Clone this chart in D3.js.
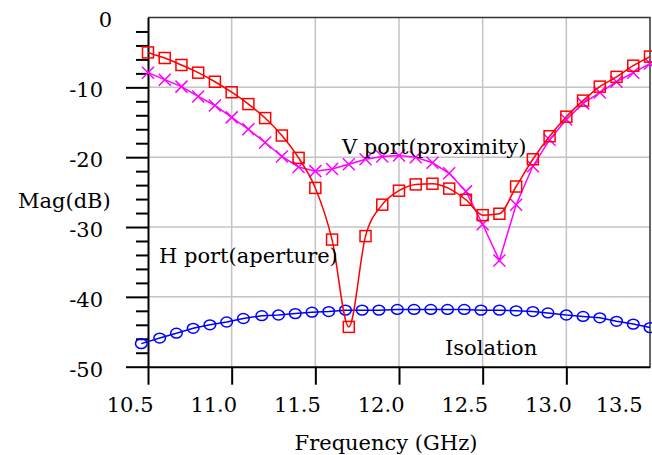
<!DOCTYPE html>
<html>
<head>
<meta charset="utf-8">
<script src="https://cdn.jsdelivr.net/npm/d3@7"></script>
<style>
  body { margin: 0; background: #fff; }
</style>
</head>
<body>
<svg id="chart"></svg>
<script>
// Data
const freq = [10.5, 10.6, 10.7, 10.8, 10.9, 11.0, 11.1, 11.2, 11.3, 11.4, 11.5, 11.6, 11.7, 11.8, 11.9, 12.0,
  12.1, 12.2, 12.3, 12.4, 12.5, 12.6, 12.7, 12.8, 12.9, 13.0, 13.1, 13.2, 13.3, 13.4, 13.5];
const hPort = [-5.0, -5.8, -6.8, -7.9, -9.2, -10.7, -12.4, -14.4, -16.9, -20.1, -24.4, -31.8, -44.3, -31.3, -26.8, -24.8,
  -23.9, -23.8, -24.5, -26.1, -28.3, -28.1, -24.2, -20.3, -17.0, -14.2, -11.9, -9.9, -8.5, -6.9, -5.6];
const vPort = [-7.9, -8.9, -9.9, -11.3, -12.6, -14.3, -16.0, -17.9, -19.9, -21.4, -22.0, -21.7, -21.0, -20.3, -19.9, -19.75,
  -20.0, -20.8, -22.3, -24.9, -29.6, -34.8, -26.8, -21.3, -17.5, -14.6, -12.3, -10.75, -9.2, -7.9, -6.6];
// isolation curve was sampled at slightly different frequencies
const isoFreq = [10.46, 10.57, 10.67, 10.77, 10.87, 10.97, 11.07, 11.18, 11.28, 11.38, 11.48, 11.58, 11.68, 11.78, 11.88, 11.99,
  12.09, 12.19, 12.29, 12.39, 12.49, 12.6, 12.7, 12.8, 12.89, 13.0, 13.1, 13.2, 13.3, 13.4, 13.5];
const isolation = [-46.7, -45.9, -45.2, -44.5, -44.0, -43.6, -43.1, -42.7, -42.6, -42.4, -42.2, -42.1, -41.9, -41.9, -41.9, -41.8,
  -41.8, -41.8, -41.8, -41.8, -41.9, -41.9, -42.0, -42.1, -42.3, -42.6, -42.8, -43.0, -43.5, -43.9, -44.4];

const xTicks = [10.5, 11.0, 11.5, 12.0, 12.5, 13.0, 13.5];
const yTicks = [0, -10, -20, -30, -40, -50];
const yMinor = [-2, -4, -6, -8, -12, -14, -16, -18, -22, -24, -26, -28, -32, -34, -36, -38, -42, -44, -46, -48];

// Liberation Serif is not picked up here, DejaVu Serif is
const FONT = "'DejaVu Serif', serif";
const FS = 21;
const W = 652, H = 455;
const svg = d3.select("#chart").attr("width", W).attr("height", H);

const x = d3.scaleLinear().domain([10.5, 13.5]).range([148, 650]);
const y = d3.scaleLinear().domain([-50, 0]).range([366.7, 17.5]);

// grid
svg.append("g").selectAll("line")
  .data(xTicks.slice(1, -1))
  .join("line")
  .attr("x1", d => x(d)).attr("x2", d => x(d))
  .attr("y1", y(0)).attr("y2", y(-50))
  .attr("stroke", "#c4c4c4").attr("stroke-width", 1.5);
svg.append("g").selectAll("line")
  .data(yTicks.slice(1, -1))
  .join("line")
  .attr("x1", x(10.5)).attr("x2", x(13.5))
  .attr("y1", d => y(d)).attr("y2", d => y(d))
  .attr("stroke", "#c4c4c4").attr("stroke-width", 1.5);

// top and right frame
svg.append("path")
  .attr("d", `M${x(10.5)},${y(0)}H${x(13.5)}V${y(-50)}`)
  .attr("fill", "none").attr("stroke", "#333").attr("stroke-width", 1.5);

// y axis (major + minor)
const yAxis = svg.append("g")
  .attr("transform", `translate(${x(10.5)},0)`)
  .call(d3.axisLeft(y).tickValues(yTicks).tickSize(22).tickSizeOuter(0).tickPadding(23)
    .tickFormat(d => String(d)));
yAxis.selectAll(".tick").filter(d => d === 0).select("line").remove();
yAxis.selectAll(".tick").filter(d => d === 0).select("text").attr("x", -36);
yAxis.selectAll(".tick text").attr("dy", "0.45em");
yAxis.append("g").call(d3.axisLeft(y).tickValues(yMinor).tickSize(12).tickFormat(""))
  .select(".domain").remove();

// x axis
const xAxis = svg.append("g")
  .attr("transform", `translate(0,${y(-50)})`)
  .call(d3.axisBottom(x).tickValues(xTicks).tickSize(18).tickSizeOuter(0).tickPadding(12)
    .tickFormat(d3.format(".1f")));
xAxis.selectAll(".tick").filter(d => d === 13.5).select("line").remove();
xAxis.selectAll(".tick text").attr("text-anchor", "end").attr("x", d => d === 13.5 ? -8 : 5);

svg.selectAll(".domain").attr("stroke", "#000").attr("stroke-width", 2);
svg.selectAll(".tick line").attr("stroke", "#000").attr("stroke-width", 2);
svg.selectAll("g").attr("font-family", FONT).attr("font-size", FS);

// series
const smooth = d3.line().x(d => x(d[0])).y(d => y(d[1])).curve(d3.curveMonotoneX);
const straight = d3.line().x(d => x(d[0])).y(d => y(d[1]));

const hData = freq.map((f, i) => [f, hPort[i]]);
const vData = freq.map((f, i) => [f, vPort[i]]);
const iData = isoFreq.map((f, i) => [f, isolation[i]]);

// isolation
svg.append("path").attr("d", straight(iData))
  .attr("fill", "none").attr("stroke", "#0000ff").attr("stroke-width", 1.5);
svg.append("g").selectAll("ellipse").data(iData).join("ellipse")
  .attr("cx", d => x(d[0])).attr("cy", d => y(d[1]))
  .attr("rx", 5.8).attr("ry", 4.9)
  .attr("fill", "none").attr("stroke", "#0000ff").attr("stroke-width", 1.5);

// V port
svg.append("path").attr("d", straight(vData))
  .attr("fill", "none").attr("stroke", "#ff00ff").attr("stroke-width", 1.5);
svg.append("g").selectAll("path").data(vData).join("path")
  .attr("d", d => {
    const cx = x(d[0]), cy = y(d[1]), s = 6;
    return `M${cx - s},${cy - s}L${cx + s},${cy + s}M${cx - s},${cy + s}L${cx + s},${cy - s}`;
  })
  .attr("stroke", "#ff00ff").attr("stroke-width", 1.5);

// H port
svg.append("path").attr("d", smooth(hData))
  .attr("fill", "none").attr("stroke", "#ff0000").attr("stroke-width", 1.5);
svg.append("g").selectAll("rect").data(hData).join("rect")
  .attr("x", d => x(d[0]) - 5.5).attr("y", d => y(d[1]) - 5.5)
  .attr("width", 11).attr("height", 11)
  .attr("fill", "none").attr("stroke", "#ff0000").attr("stroke-width", 1.5);

// labels
const labels = [
  { text: "V port(proximity)", x: 342, y: 153.5 },
  { text: "H port(aperture)", x: 159, y: 263 },
  { text: "Isolation", x: 445, y: 355 },
  { text: "Mag(dB)", x: 18, y: 208 }
];
svg.append("g").selectAll("text").data(labels).join("text")
  .attr("x", d => d.x).attr("y", d => d.y)
  .attr("font-family", FONT).attr("font-size", FS).attr("fill", "#000")
  .text(d => d.text);

svg.append("text")
  .attr("x", 386).attr("y", 450)
  .attr("text-anchor", "middle")
  .attr("font-family", FONT).attr("font-size", FS).attr("fill", "#000")
  .text("Frequency (GHz)");
</script>
</body>
</html>
